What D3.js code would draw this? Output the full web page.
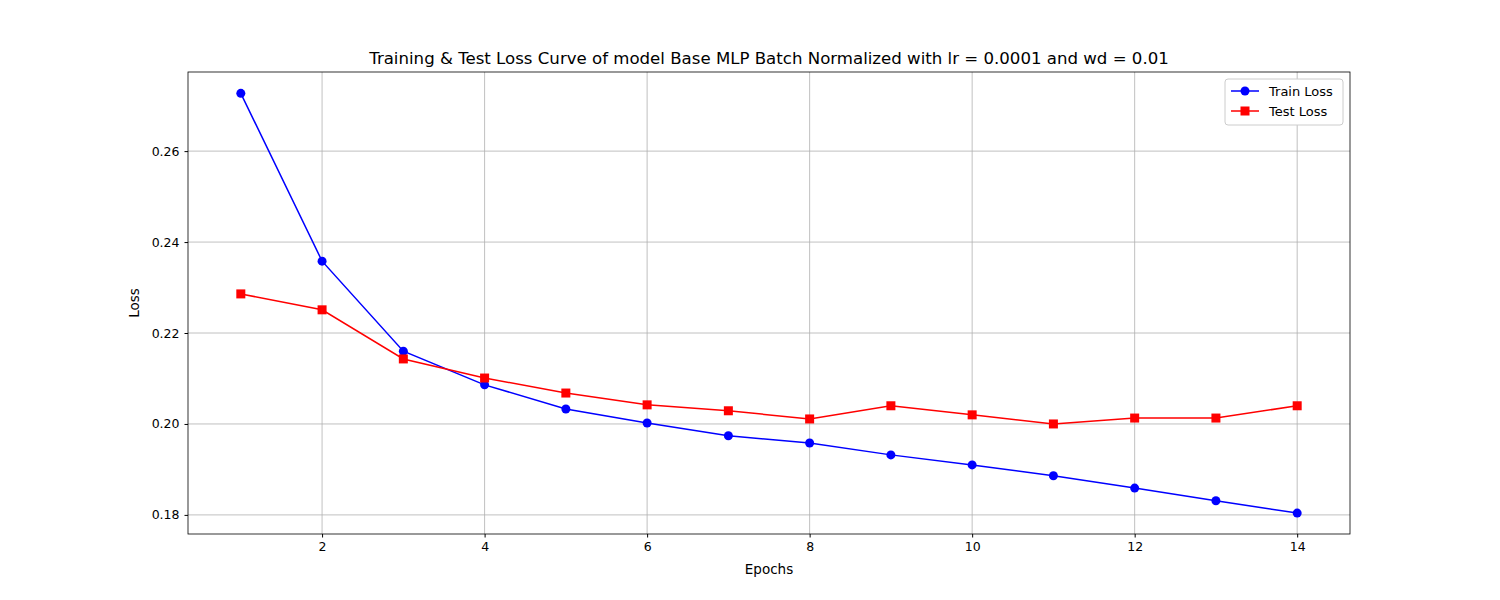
<!DOCTYPE html>
<html><head><meta charset="utf-8">
<script src="https://cdn.jsdelivr.net/npm/d3@7"></script>
<style>body{margin:0;background:#fff}text{font-family:"DejaVu Sans",sans-serif}</style>
</head><body><svg id="c" width="1500" height="600"></svg>
<script>
const epochs=[1,2,3,4,5,6,7,8,9,10,11,12,13,14];
const trainLoss=[0.2727,0.2358,0.2160,0.2086,0.2033,0.2002,0.1974,0.1958,0.1932,0.1910,0.1886,0.1859,0.1831,0.1804];
const testLoss=[0.2286,0.2251,0.2143,0.2101,0.2068,0.2042,0.2029,0.2011,0.2040,0.2020,0.2000,0.2013,0.2013,0.2040];
const xTicks=[2,4,6,8,10,12,14];
const yTicks=[0.18,0.20,0.22,0.24,0.26];
const svg=d3.select("#c");
const L=188,R=1350,T=72,B=534;
const x=d3.scaleLinear().domain([0.35,14.65]).range([L,R]);
const y=d3.scaleLinear().domain([0.1758,0.2774]).range([B,T]);
const g=svg.append("g");
xTicks.forEach(t=>g.append("line").attr("x1",x(t)).attr("x2",x(t)).attr("y1",T).attr("y2",B).attr("stroke","#b0b0b0").attr("stroke-width",0.8));
yTicks.forEach(t=>g.append("line").attr("x1",L).attr("x2",R).attr("y1",y(t)).attr("y2",y(t)).attr("stroke","#b0b0b0").attr("stroke-width",0.8));
svg.append("g").attr("transform",`translate(0,${B})`).call(d3.axisBottom(x).tickValues(xTicks).tickSize(3.5).tickPadding(5).tickFormat(d3.format("d"))).call(a=>{a.select(".domain").remove();a.selectAll("text").attr("font-size",12.5).attr("fill","#000");});
svg.append("g").attr("transform",`translate(${L},0)`).call(d3.axisLeft(y).tickValues(yTicks).tickSize(3.5).tickPadding(5).tickFormat(d3.format(".2f"))).call(a=>{a.select(".domain").remove();a.selectAll("text").attr("font-size",12.5).attr("fill","#000");});
svg.append("rect").attr("x",L).attr("y",T).attr("width",R-L).attr("height",B-T).attr("fill","none").attr("stroke","#000").attr("stroke-width",0.8);
const line=d3.line().x((d,i)=>x(epochs[i])).y(d=>y(d));
svg.append("path").datum(trainLoss).attr("d",line).attr("fill","none").attr("stroke","blue").attr("stroke-width",1.5);
svg.append("path").datum(testLoss).attr("d",line).attr("fill","none").attr("stroke","red").attr("stroke-width",1.5);
svg.selectAll(".tp").data(trainLoss).enter().append("circle").attr("cx",(d,i)=>x(epochs[i])).attr("cy",d=>y(d)).attr("r",4.5).attr("fill","blue");
svg.selectAll(".sp").data(testLoss).enter().append("rect").attr("x",(d,i)=>x(epochs[i])-4.5).attr("y",d=>y(d)-4.5).attr("width",9).attr("height",9).attr("fill","red");
svg.append("text").attr("x",(L+R)/2).attr("y",64).attr("text-anchor","middle").attr("font-size",16.6).text("Training & Test Loss Curve of model Base MLP Batch Normalized with lr = 0.0001 and wd = 0.01");
svg.append("text").attr("x",(L+R)/2).attr("y",574).attr("text-anchor","middle").attr("font-size",13.5).text("Epochs");
svg.append("text").attr("transform",`translate(139,${(T+B)/2}) rotate(-90)`).attr("text-anchor","middle").attr("font-size",13.5).text("Loss");
const lg=svg.append("g").attr("transform","translate(1225,79)");
lg.append("rect").attr("width",118).attr("height",46).attr("rx",3).attr("fill","#fff").attr("stroke","#ccc");
[["Train Loss","blue","c"],["Test Loss","red","s"]].forEach((s,i)=>{
 const yy=12+i*20;
 lg.append("line").attr("x1",6).attr("x2",34).attr("y1",yy).attr("y2",yy).attr("stroke",s[1]).attr("stroke-width",1.5);
 if(s[2]=="c")lg.append("circle").attr("cx",20).attr("cy",yy).attr("r",4.5).attr("fill",s[1]);
 else lg.append("rect").attr("x",15.5).attr("y",yy-4.5).attr("width",9).attr("height",9).attr("fill",s[1]);
 lg.append("text").attr("x",44).attr("y",yy+4.5).attr("font-size",13).text(s[0]);
});
</script></body></html>
